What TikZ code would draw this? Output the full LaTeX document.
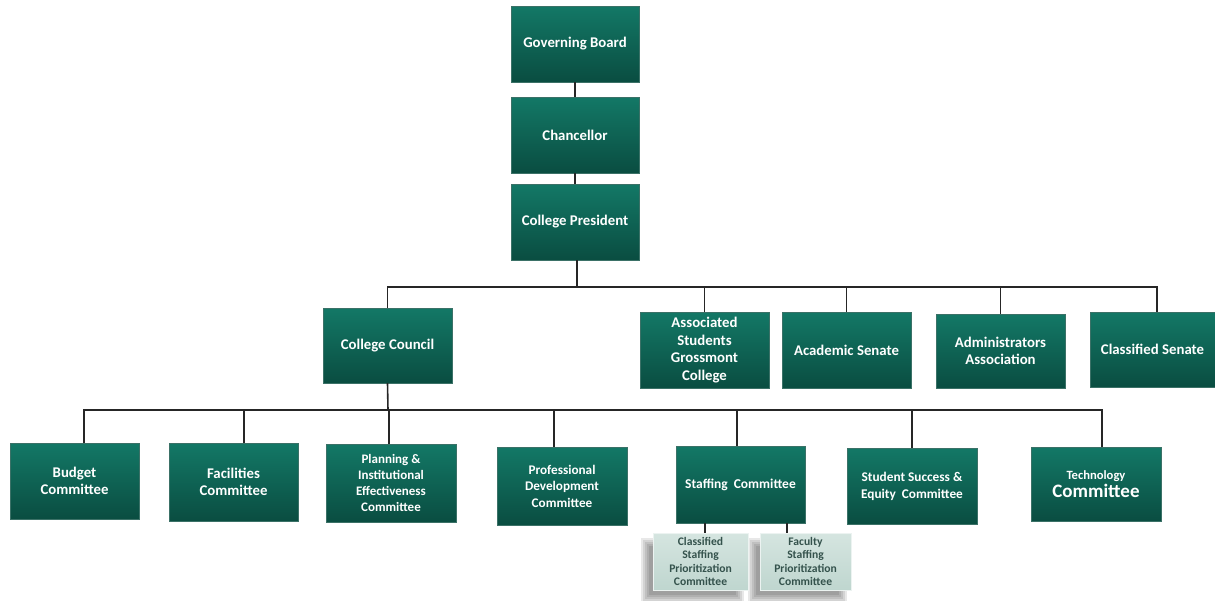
\documentclass[tikz,border=0pt]{standalone}
\usepackage{fontspec}
\setmainfont{Carlito}
\definecolor{tealtop}{HTML}{137866}
\definecolor{tealbot}{HTML}{0A4D41}
\definecolor{subtop}{HTML}{D5E5E0}
\definecolor{subbot}{HTML}{BFD6CF}
\definecolor{subtext}{HTML}{34524C}
\tikzset{
  orgbox/.style={rectangle, top color=tealtop, bottom color=tealbot, draw=tealbot!80!white, line width=0.4pt,
    text=white, font=\bfseries\fontsize{14.8}{17.5}\selectfont, align=center, inner sep=2pt},
  subbox/.style={rectangle, top color=subtop, bottom color=subbot, draw=white!70!subbot, line width=0.6pt,
    text=subtext, font=\bfseries\fontsize{11.6}{13.3}\selectfont, align=center, inner sep=1pt},
  shadowlayer/.style={fill=black, opacity=0.09},
  link/.style={draw=black!85, line width=1.6pt}
}
\begin{document}
\begin{tikzpicture}[x=1pt,y=-1pt]
\useasboundingbox (0,0) rectangle (1215,600);
% top chain
\node[orgbox, minimum width=128pt, minimum height=76pt] (gb) at (575,44) {Governing Board};
\node[orgbox, minimum width=128pt, minimum height=76pt] (ch) at (575,135) {Chancellor};
\node[orgbox, minimum width=128pt, minimum height=76pt] (cp) at (575,222) {College President};
% second row
\node[orgbox, minimum width=129pt, minimum height=75pt] (cc) at (387.5,345.5) {College Council};
\node[orgbox, minimum width=129pt, minimum height=76pt] (as) at (704.5,350) {Associated\\Students\\Grossmont\\College};
\node[orgbox, minimum width=129pt, minimum height=76pt] (acs) at (846.5,350) {Academic Senate};
\node[orgbox, minimum width=129pt, minimum height=74pt] (aa) at (1000.5,351) {Administrators\\Association};
\node[orgbox, minimum width=125pt, minimum height=75pt] (cs) at (1152.5,349.5) {Classified Senate};
% third row
\node[orgbox, minimum width=129pt, minimum height=76pt] (bud) at (74.5,481) {Budget\\Committee};
\node[orgbox, minimum width=129pt, minimum height=78pt] (fac) at (233.5,482) {Facilities\\Committee};
\node[orgbox, minimum width=130pt, minimum height=78pt, font=\bfseries\fontsize{13}{16}\selectfont] (pie) at (391,483) {Planning \&\\Institutional\\Effectiveness\\Committee};
\node[orgbox, minimum width=130pt, minimum height=78pt, font=\bfseries\fontsize{13.2}{16.5}\selectfont] (pd) at (562,486) {Professional\\Development\\Committee};
\node[orgbox, minimum width=129pt, minimum height=77pt, font=\bfseries\fontsize{13.5}{16}\selectfont] (st) at (740.5,484.5) {Staffing\ \ Committee};
\node[orgbox, minimum width=130pt, minimum height=76pt, font=\bfseries\fontsize{13.3}{17}\selectfont] (ss) at (912,486) {Student Success \&\\Equity\ \ Committee};
\node[orgbox, minimum width=130pt, minimum height=74pt] (tech) at (1096,484) {{\fontsize{12.6}{14}\selectfont Technology}\\[1pt]{\fontsize{19}{21}\selectfont Committee}};
% blurred shadows for sub boxes
\foreach \i in {0,2,4,6,8} {
  \fill[shadowlayer] (653-8+\i-4,533+9+\i-4) rectangle (748-8-\i+4,590+9-\i+4);
  \fill[shadowlayer] (760-8+\i-4,533+9+\i-4) rectangle (851-8-\i+4,590+9-\i+4);
}
% sub boxes
\node[subbox, minimum width=95pt, minimum height=57pt] (csp) at (700.5,561.5) {Classified\\Staffing\\Prioritization\\Committee};
\node[subbox, minimum width=91pt, minimum height=57pt] (fsp) at (805.5,561.5) {Faculty\\Staffing\\Prioritization\\Committee};
% bus coordinates
\coordinate (bus1) at (577,287);
\coordinate (bus2) at (388,410);
% connectors top chain
\draw[link] (gb.south) -- (ch.north);
\draw[link] (ch.south) -- (cp.north);
\draw[link] (cp.south -| bus1) -- (bus1);
% first bus
\draw[link] (cc.north) |- (bus1);
\draw[link] (bus1) -| (cs.north -| 1157,0);
\draw[link] (as.north) -- (as.north |- bus1);
\draw[link] (acs.north) -- (acs.north |- bus1);
\draw[link] (aa.north) -- (aa.north |- bus1);
% second bus
\draw[link] (cc.south) -- (bus2);
\draw[link] (bud.north -| 84,0) |- (bus2);
\draw[link] (bus2) -| (tech.north -| 1102,0);
\draw[link] (fac.north -| 244,0) -- (244,410);
\draw[link] (pie.north -| 389,0) -- (389,410);
\draw[link] (pd.north -| 554,0) -- (554,410);
\draw[link] (st.north -| 737,0) -- (737,410);
\draw[link] (ss.north) -- (ss.north |- bus2);
% sub connectors
\draw[link] (st.south -| 705,0) -- (csp.north -| 705,0);
\draw[link] (st.south -| 787,0) -- (fsp.north -| 787,0);
\end{tikzpicture}
\end{document}
